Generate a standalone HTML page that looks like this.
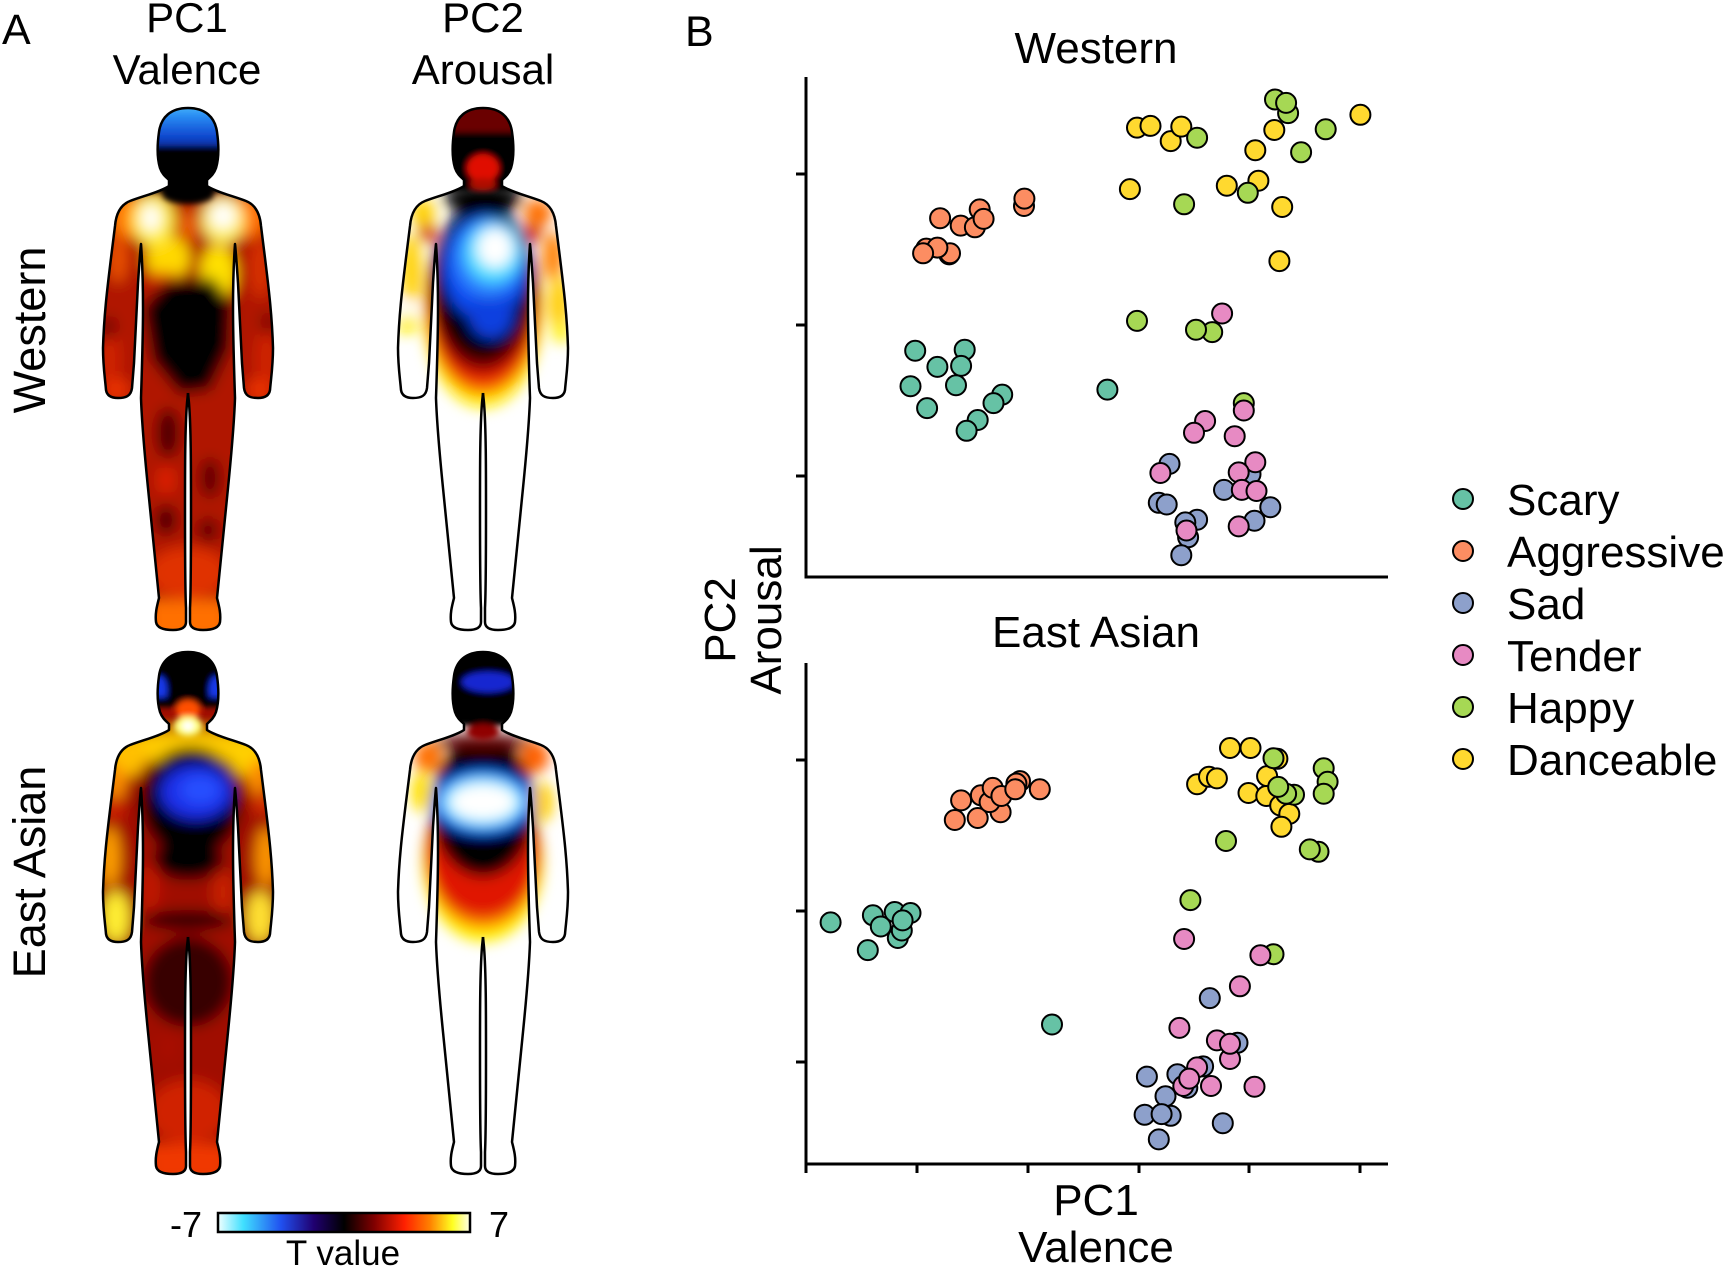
<!DOCTYPE html>
<html><head><meta charset="utf-8"><style>
html,body{margin:0;padding:0;background:#fff;}
svg{display:block;}
text{font-family:"Liberation Sans",Arial,sans-serif;fill:#000;}
.p circle{stroke:#000;stroke-width:2;}
.sc{fill:#66c2a5}.ag{fill:#fc8d62}.sd{fill:#8da0cb}.td{fill:#e78ac3}.hp{fill:#a6d854}.dc{fill:#ffd92f}
.ol{fill:none;stroke:#000;stroke-width:2.5;stroke-linejoin:round;}
</style></head><body>
<svg width="1724" height="1268" viewBox="0 0 1724 1268" xmlns="http://www.w3.org/2000/svg">
<defs>
<clipPath id="bc">
<path d="M0,0 C17,0 27,9 29,24 C31,38 31,50 28,60 C26,66 22,69 19,72 L19,78 C28,84 45,88 58,93 C68,97 72,106 73,118 L77,150 C80,175 84,205 85,240 C85,258 83,270 82,282 C81,288 76,290 70,290 C62,290 57,288 56,280 L54,255 C53,230 51,200 50,175 C49,160 48,145 47,136 C46,150 45,175 45,200 C45,230 46,260 47,290 C46,320 43,350 40,380 C37,410 34,440 31,470 L29,490 C31,498 33,505 32,514 C31,520 24,522 15,522 C7,522 2,520 2,514 L2,500 C3,480 3,440 3,400 C3,360 3,320 1,295 L0,285 Z"/>
<path d="M0,0 C17,0 27,9 29,24 C31,38 31,50 28,60 C26,66 22,69 19,72 L19,78 C28,84 45,88 58,93 C68,97 72,106 73,118 L77,150 C80,175 84,205 85,240 C85,258 83,270 82,282 C81,288 76,290 70,290 C62,290 57,288 56,280 L54,255 C53,230 51,200 50,175 C49,160 48,145 47,136 C46,150 45,175 45,200 C45,230 46,260 47,290 C46,320 43,350 40,380 C37,410 34,440 31,470 L29,490 C31,498 33,505 32,514 C31,520 24,522 15,522 C7,522 2,520 2,514 L2,500 C3,480 3,440 3,400 C3,360 3,320 1,295 L0,285 Z" transform="scale(-1,1)"/>
</clipPath>
<filter id="b7" x="-50%" y="-50%" width="200%" height="200%"><feGaussianBlur stdDeviation="7"/></filter>
<filter id="b3" x="-50%" y="-50%" width="200%" height="200%"><feGaussianBlur stdDeviation="3"/></filter>
<linearGradient id="hb" x1="0" y1="0" x2="0" y2="1">
<stop offset="0" stop-color="#60d8ff"/><stop offset="0.35" stop-color="#2a90f5"/><stop offset="0.8" stop-color="#1048d0"/><stop offset="1" stop-color="#0830a0"/>
</linearGradient>
<linearGradient id="cb" x1="0" y1="0" x2="1" y2="0">
<stop offset="0" stop-color="#f0ffff"/><stop offset="0.1" stop-color="#40e0ff"/><stop offset="0.25" stop-color="#2050f0"/><stop offset="0.38" stop-color="#200070"/><stop offset="0.5" stop-color="#000000"/><stop offset="0.62" stop-color="#800000"/><stop offset="0.74" stop-color="#ff2000"/><stop offset="0.84" stop-color="#ff8000"/><stop offset="0.93" stop-color="#ffff20"/><stop offset="1" stop-color="#ffffe8"/>
</linearGradient>
</defs>

<!-- Panel A labels -->
<text x="2" y="44" font-size="43">A</text>
<text x="187" y="32" font-size="42" text-anchor="middle">PC1</text>
<text x="187" y="84" font-size="42" text-anchor="middle">Valence</text>
<text x="483" y="32" font-size="42" text-anchor="middle">PC2</text>
<text x="483" y="84" font-size="42" text-anchor="middle">Arousal</text>
<text transform="translate(45,330) rotate(-90)" font-size="45" text-anchor="middle">Western</text>
<text transform="translate(45,872) rotate(-90)" font-size="45" text-anchor="middle">East Asian</text>

<!-- PC1 Western -->
<g transform="translate(188,108)">
<g clip-path="url(#bc)">
<g filter="url(#b7)">
<rect x="-100" y="-10" width="200" height="545" fill="#b01400"/>
<ellipse cx="-78" cy="250" rx="10" ry="30" fill="#d02000"/>
<ellipse cx="78" cy="250" rx="10" ry="30" fill="#d02000"/>
<ellipse cx="-72" cy="282" rx="14" ry="12" fill="#e83000"/>
<ellipse cx="72" cy="282" rx="14" ry="12" fill="#e83000"/>
<ellipse cx="-62" cy="108" rx="18" ry="22" fill="#ff7a00"/>
<ellipse cx="62" cy="108" rx="18" ry="22" fill="#ff7000"/>
<ellipse cx="-70" cy="150" rx="10" ry="25" fill="#e85000"/>
<ellipse cx="72" cy="160" rx="10" ry="30" fill="#d83000"/>
<ellipse cx="-80" cy="220" rx="8" ry="12" fill="#700000"/>
<ellipse cx="80" cy="215" rx="8" ry="12" fill="#800800"/>
<ellipse cx="-20" cy="150" rx="22" ry="22" fill="#ffd800"/>
<ellipse cx="30" cy="165" rx="18" ry="28" fill="#ffe000"/>
<ellipse cx="-35" cy="112" rx="22" ry="26" fill="#ffee40"/>
<ellipse cx="35" cy="112" rx="22" ry="24" fill="#fff060"/>
<ellipse cx="0" cy="118" rx="8" ry="16" fill="#f06000"/>
<ellipse cx="-37" cy="110" rx="10" ry="14" fill="#ffffff"/>
<ellipse cx="35" cy="108" rx="13" ry="13" fill="#ffffff"/>
<ellipse cx="-25" cy="170" rx="16" ry="6" fill="#e04000"/>
<polygon points="-45,200 -22,172 25,170 44,195 42,240 22,282 -8,286 -36,252" fill="#000"/>
<ellipse cx="-20" cy="325" rx="12" ry="25" fill="#500000"/>
<ellipse cx="22" cy="370" rx="10" ry="20" fill="#600000"/>
<ellipse cx="-22" cy="412" rx="11" ry="15" fill="#500000"/>
<ellipse cx="20" cy="422" rx="10" ry="12" fill="#600000"/>
<ellipse cx="-22" cy="372" rx="8" ry="14" fill="#e02000"/>
<ellipse cx="0" cy="465" rx="40" ry="26" fill="#e03000"/>
<rect x="-40" y="492" width="80" height="40" fill="#ff7000"/>
</g>
<g filter="url(#b3)">
<rect x="-40" y="-10" width="80" height="48" fill="url(#hb)"/>
<rect x="-40" y="38" width="80" height="46" fill="#000"/>
<ellipse cx="0" cy="86" rx="26" ry="10" fill="#000"/>
</g>
</g>
<path class="ol" d="M0,0 C17,0 27,9 29,24 C31,38 31,50 28,60 C26,66 22,69 19,72 L19,78 C28,84 45,88 58,93 C68,97 72,106 73,118 L77,150 C80,175 84,205 85,240 C85,258 83,270 82,282 C81,288 76,290 70,290 C62,290 57,288 56,280 L54,255 C53,230 51,200 50,175 C49,160 48,145 47,136 C46,150 45,175 45,200 C45,230 46,260 47,290 C46,320 43,350 40,380 C37,410 34,440 31,470 L29,490 C31,498 33,505 32,514 C31,520 24,522 15,522 C7,522 2,520 2,514 L2,500 C3,480 3,440 3,400 C3,360 3,320 1,295 L0,285"/>
<path class="ol" transform="scale(-1,1)" d="M0,0 C17,0 27,9 29,24 C31,38 31,50 28,60 C26,66 22,69 19,72 L19,78 C28,84 45,88 58,93 C68,97 72,106 73,118 L77,150 C80,175 84,205 85,240 C85,258 83,270 82,282 C81,288 76,290 70,290 C62,290 57,288 56,280 L54,255 C53,230 51,200 50,175 C49,160 48,145 47,136 C46,150 45,175 45,200 C45,230 46,260 47,290 C46,320 43,350 40,380 C37,410 34,440 31,470 L29,490 C31,498 33,505 32,514 C31,520 24,522 15,522 C7,522 2,520 2,514 L2,500 C3,480 3,440 3,400 C3,360 3,320 1,295 L0,285"/>
</g>

<!-- PC2 Western -->
<g transform="translate(483,108)">
<g clip-path="url(#bc)">
<g filter="url(#b7)">
<ellipse cx="0" cy="202" rx="60" ry="98" fill="#ffee10"/>
<ellipse cx="0" cy="194" rx="58" ry="94" fill="#ff8000"/>
<ellipse cx="0" cy="188" rx="56" ry="90" fill="#e82000"/>
<ellipse cx="0" cy="180" rx="53" ry="84" fill="#800000"/>
<ellipse cx="0" cy="172" rx="50" ry="80" fill="#000"/>
<ellipse cx="0" cy="90" rx="40" ry="14" fill="#000"/>
<ellipse cx="-60" cy="105" rx="12" ry="15" fill="#ffd000"/>
<ellipse cx="-55" cy="125" rx="8" ry="10" fill="#d02000"/>
<ellipse cx="55" cy="105" rx="14" ry="14" fill="#ff7000"/>
<ellipse cx="50" cy="125" rx="8" ry="10" fill="#d02000"/>
<ellipse cx="-72" cy="160" rx="10" ry="35" fill="#ffd000"/>
<ellipse cx="-78" cy="203" rx="10" ry="5" fill="#ffffff"/>
<ellipse cx="-76" cy="216" rx="10" ry="10" fill="#ffee00"/>
<ellipse cx="70" cy="148" rx="10" ry="25" fill="#ff8000"/>
<ellipse cx="76" cy="195" rx="10" ry="28" fill="#ffcc00"/>
<ellipse cx="78" cy="225" rx="8" ry="10" fill="#fff000"/>
<ellipse cx="2" cy="160" rx="42" ry="52" fill="#1048f0"/>
<ellipse cx="8" cy="205" rx="22" ry="25" fill="#1040e0"/>
<ellipse cx="6" cy="150" rx="36" ry="40" fill="#2a80ff"/>
<ellipse cx="10" cy="145" rx="28" ry="30" fill="#50e0ff"/>
<ellipse cx="12" cy="140" rx="18" ry="20" fill="#ffffff"/>
</g>
<g filter="url(#b3)">
<rect x="-40" y="-10" width="80" height="34" fill="#6a0000"/>
<rect x="-40" y="24" width="80" height="60" fill="#000"/>
<ellipse cx="0" cy="60" rx="16" ry="14" fill="#e01000"/>
<ellipse cx="0" cy="76" rx="13" ry="6" fill="#b01000"/>
</g>
</g>
<path class="ol" d="M0,0 C17,0 27,9 29,24 C31,38 31,50 28,60 C26,66 22,69 19,72 L19,78 C28,84 45,88 58,93 C68,97 72,106 73,118 L77,150 C80,175 84,205 85,240 C85,258 83,270 82,282 C81,288 76,290 70,290 C62,290 57,288 56,280 L54,255 C53,230 51,200 50,175 C49,160 48,145 47,136 C46,150 45,175 45,200 C45,230 46,260 47,290 C46,320 43,350 40,380 C37,410 34,440 31,470 L29,490 C31,498 33,505 32,514 C31,520 24,522 15,522 C7,522 2,520 2,514 L2,500 C3,480 3,440 3,400 C3,360 3,320 1,295 L0,285"/>
<path class="ol" transform="scale(-1,1)" d="M0,0 C17,0 27,9 29,24 C31,38 31,50 28,60 C26,66 22,69 19,72 L19,78 C28,84 45,88 58,93 C68,97 72,106 73,118 L77,150 C80,175 84,205 85,240 C85,258 83,270 82,282 C81,288 76,290 70,290 C62,290 57,288 56,280 L54,255 C53,230 51,200 50,175 C49,160 48,145 47,136 C46,150 45,175 45,200 C45,230 46,260 47,290 C46,320 43,350 40,380 C37,410 34,440 31,470 L29,490 C31,498 33,505 32,514 C31,520 24,522 15,522 C7,522 2,520 2,514 L2,500 C3,480 3,440 3,400 C3,360 3,320 1,295 L0,285"/>
</g>

<!-- PC1 East Asian -->
<g transform="translate(188,652)">
<g clip-path="url(#bc)">
<g filter="url(#b7)">
<rect x="-100" y="-10" width="200" height="545" fill="#a01000"/>
<ellipse cx="0" cy="95" rx="80" ry="16" fill="#ffcc00"/>
<ellipse cx="-62" cy="105" rx="20" ry="20" fill="#ffc000"/>
<ellipse cx="62" cy="105" rx="20" ry="20" fill="#ffd000"/>
<ellipse cx="-72" cy="130" rx="10" ry="18" fill="#ff9000"/>
<ellipse cx="-74" cy="158" rx="10" ry="10" fill="#d02000"/>
<ellipse cx="-78" cy="205" rx="10" ry="30" fill="#ffa000"/>
<ellipse cx="-72" cy="265" rx="14" ry="26" fill="#ffee30"/>
<ellipse cx="70" cy="125" rx="10" ry="18" fill="#ff9000"/>
<ellipse cx="75" cy="152" rx="10" ry="10" fill="#d83000"/>
<ellipse cx="78" cy="205" rx="10" ry="30" fill="#ff9800"/>
<ellipse cx="72" cy="265" rx="14" ry="26" fill="#ffe030"/>
<ellipse cx="3" cy="150" rx="50" ry="55" fill="#000"/>
<ellipse cx="0" cy="208" rx="35" ry="20" fill="#000"/>
<ellipse cx="8" cy="140" rx="36" ry="27" fill="#1c2ee8"/>
<ellipse cx="12" cy="138" rx="20" ry="14" fill="#2850ff"/>
<ellipse cx="-38" cy="235" rx="10" ry="25" fill="#c01800"/>
<ellipse cx="35" cy="240" rx="10" ry="22" fill="#c82000"/>
<ellipse cx="0" cy="268" rx="45" ry="10" fill="#300000"/>
<ellipse cx="0" cy="330" rx="45" ry="45" fill="#380000"/>
<ellipse cx="-20" cy="395" rx="10" ry="15" fill="#a81000"/>
<ellipse cx="20" cy="395" rx="10" ry="15" fill="#a01000"/>
<ellipse cx="0" cy="460" rx="40" ry="32" fill="#d02000"/>
<rect x="-40" y="492" width="80" height="40" fill="#f03800"/>
</g>
<g filter="url(#b3)">
<rect x="-40" y="-10" width="80" height="60" fill="#000"/>
<ellipse cx="-28" cy="38" rx="7" ry="14" fill="#1838e8"/>
<ellipse cx="28" cy="38" rx="7" ry="14" fill="#1838e8"/>
<rect x="-40" y="45" width="80" height="10" fill="#000"/>
<ellipse cx="0" cy="58" rx="12" ry="10" fill="#ff5000"/>
<ellipse cx="0" cy="74" rx="14" ry="10" fill="#ffff80"/>
<ellipse cx="0" cy="74" rx="6" ry="5" fill="#ffffff"/>
</g>
</g>
<path class="ol" d="M0,0 C17,0 27,9 29,24 C31,38 31,50 28,60 C26,66 22,69 19,72 L19,78 C28,84 45,88 58,93 C68,97 72,106 73,118 L77,150 C80,175 84,205 85,240 C85,258 83,270 82,282 C81,288 76,290 70,290 C62,290 57,288 56,280 L54,255 C53,230 51,200 50,175 C49,160 48,145 47,136 C46,150 45,175 45,200 C45,230 46,260 47,290 C46,320 43,350 40,380 C37,410 34,440 31,470 L29,490 C31,498 33,505 32,514 C31,520 24,522 15,522 C7,522 2,520 2,514 L2,500 C3,480 3,440 3,400 C3,360 3,320 1,295 L0,285"/>
<path class="ol" transform="scale(-1,1)" d="M0,0 C17,0 27,9 29,24 C31,38 31,50 28,60 C26,66 22,69 19,72 L19,78 C28,84 45,88 58,93 C68,97 72,106 73,118 L77,150 C80,175 84,205 85,240 C85,258 83,270 82,282 C81,288 76,290 70,290 C62,290 57,288 56,280 L54,255 C53,230 51,200 50,175 C49,160 48,145 47,136 C46,150 45,175 45,200 C45,230 46,260 47,290 C46,320 43,350 40,380 C37,410 34,440 31,470 L29,490 C31,498 33,505 32,514 C31,520 24,522 15,522 C7,522 2,520 2,514 L2,500 C3,480 3,440 3,400 C3,360 3,320 1,295 L0,285"/>
</g>

<!-- PC2 East Asian -->
<g transform="translate(483,652)">
<g clip-path="url(#bc)">
<g filter="url(#b7)">
<ellipse cx="0" cy="210" rx="60" ry="80" fill="#fff000"/>
<ellipse cx="0" cy="203" rx="58" ry="74" fill="#ff8000"/>
<ellipse cx="0" cy="196" rx="56" ry="70" fill="#e01800"/>
<ellipse cx="0" cy="155" rx="52" ry="70" fill="#000"/>
<ellipse cx="0" cy="90" rx="50" ry="8" fill="#600000"/>
<ellipse cx="-55" cy="105" rx="14" ry="16" fill="#ff7000"/>
<ellipse cx="-62" cy="140" rx="10" ry="20" fill="#ffe000"/>
<ellipse cx="52" cy="105" rx="14" ry="16" fill="#ff6000"/>
<ellipse cx="60" cy="150" rx="10" ry="20" fill="#ffd000"/>
<ellipse cx="0" cy="150" rx="50" ry="32" fill="#1040ff"/>
<ellipse cx="0" cy="150" rx="42" ry="26" fill="#40e0ff"/>
<ellipse cx="0" cy="150" rx="34" ry="19" fill="#ffffff"/>
</g>
<g filter="url(#b3)">
<rect x="-40" y="-10" width="80" height="84" fill="#000"/>
<ellipse cx="5" cy="30" rx="26" ry="10" fill="#1828d0"/>
<ellipse cx="0" cy="80" rx="16" ry="8" fill="#900000"/>
</g>
</g>
<path class="ol" d="M0,0 C17,0 27,9 29,24 C31,38 31,50 28,60 C26,66 22,69 19,72 L19,78 C28,84 45,88 58,93 C68,97 72,106 73,118 L77,150 C80,175 84,205 85,240 C85,258 83,270 82,282 C81,288 76,290 70,290 C62,290 57,288 56,280 L54,255 C53,230 51,200 50,175 C49,160 48,145 47,136 C46,150 45,175 45,200 C45,230 46,260 47,290 C46,320 43,350 40,380 C37,410 34,440 31,470 L29,490 C31,498 33,505 32,514 C31,520 24,522 15,522 C7,522 2,520 2,514 L2,500 C3,480 3,440 3,400 C3,360 3,320 1,295 L0,285"/>
<path class="ol" transform="scale(-1,1)" d="M0,0 C17,0 27,9 29,24 C31,38 31,50 28,60 C26,66 22,69 19,72 L19,78 C28,84 45,88 58,93 C68,97 72,106 73,118 L77,150 C80,175 84,205 85,240 C85,258 83,270 82,282 C81,288 76,290 70,290 C62,290 57,288 56,280 L54,255 C53,230 51,200 50,175 C49,160 48,145 47,136 C46,150 45,175 45,200 C45,230 46,260 47,290 C46,320 43,350 40,380 C37,410 34,440 31,470 L29,490 C31,498 33,505 32,514 C31,520 24,522 15,522 C7,522 2,520 2,514 L2,500 C3,480 3,440 3,400 C3,360 3,320 1,295 L0,285"/>
</g>

<!-- Colorbar -->
<rect x="218" y="1213" width="252" height="19" fill="url(#cb)" stroke="#000" stroke-width="2.5"/>
<text x="202" y="1237" font-size="36" text-anchor="end">-7</text>
<text x="489" y="1237" font-size="36">7</text>
<text x="343" y="1265" font-size="35" text-anchor="middle">T value</text>

<!-- Panel B -->
<text x="685" y="46" font-size="43">B</text>
<text x="1096" y="63" font-size="44" text-anchor="middle">Western</text>
<text x="1096" y="647" font-size="44" text-anchor="middle">East Asian</text>
<text transform="translate(735,620) rotate(-90)" font-size="44" text-anchor="middle">PC2</text>
<text transform="translate(781,620) rotate(-90)" font-size="44" text-anchor="middle">Arousal</text>
<text x="1096" y="1215" font-size="44" text-anchor="middle">PC1</text>
<text x="1096" y="1262" font-size="44" text-anchor="middle">Valence</text>

<!-- Axes -->
<g stroke="#000" stroke-width="3" fill="none">
<path d="M806,77 V578 M804.5,577 H1388"/>
<path d="M796,174 H806 M796,325 H806 M796,476 H806"/>
<path d="M806,663 V1165 M804.5,1164 H1388"/>
<path d="M796,760 H806 M796,911 H806 M796,1062 H806"/>
<path d="M806,1164 V1173 M917,1164 V1173 M1028,1164 V1173 M1139,1164 V1173 M1249,1164 V1173 M1360,1164 V1173"/>
</g>

<!-- Western scatter -->
<g class="p">
<circle class="sc" cx="915.2" cy="350.7" r="10"/>
<circle class="sc" cx="964.7" cy="349.7" r="10"/>
<circle class="sc" cx="937.4" cy="366.9" r="10"/>
<circle class="sc" cx="961.1" cy="365.9" r="10"/>
<circle class="sc" cx="910.5" cy="386.2" r="10"/>
<circle class="sc" cx="956.0" cy="385.2" r="10"/>
<circle class="sc" cx="927.1" cy="408.1" r="10"/>
<circle class="sc" cx="1002.2" cy="394.6" r="10"/>
<circle class="sc" cx="993.5" cy="403.1" r="10"/>
<circle class="sc" cx="977.7" cy="420.0" r="10"/>
<circle class="sc" cx="966.6" cy="430.8" r="10"/>
<circle class="sc" cx="1107.4" cy="389.6" r="10"/>

<circle class="ag" cx="940.1" cy="218.2" r="10"/>
<circle class="ag" cx="960.7" cy="225.6" r="10"/>
<circle class="ag" cx="979.7" cy="209.4" r="10"/>
<circle class="ag" cx="974.9" cy="227.3" r="10"/>
<circle class="ag" cx="983.6" cy="218.9" r="10"/>
<circle class="ag" cx="926.3" cy="248.6" r="10"/>
<circle class="ag" cx="949.2" cy="254.4" r="10"/>
<circle class="ag" cx="950.0" cy="253.3" r="10"/>
<circle class="ag" cx="937.4" cy="247.6" r="10"/>
<circle class="ag" cx="923.1" cy="253.3" r="10"/>
<circle class="ag" cx="1024.0" cy="206.0" r="10"/>
<circle class="ag" cx="1024.4" cy="198.6" r="10"/>

<circle class="dc" cx="1137.0" cy="127.6" r="10"/>
<circle class="dc" cx="1150.5" cy="125.9" r="10"/>
<circle class="dc" cx="1170.7" cy="141.1" r="10"/>
<circle class="dc" cx="1181.3" cy="126.6" r="10"/>
<circle class="dc" cx="1129.9" cy="189.1" r="10"/>
<circle class="dc" cx="1274.3" cy="130.0" r="10"/>
<circle class="dc" cx="1255.3" cy="150.2" r="10"/>
<circle class="dc" cx="1258.4" cy="180.7" r="10"/>
<circle class="dc" cx="1226.8" cy="185.7" r="10"/>
<circle class="dc" cx="1282.2" cy="207.0" r="10"/>
<circle class="dc" cx="1279.4" cy="261.1" r="10"/>
<circle class="dc" cx="1360.4" cy="114.8" r="10"/>

<circle class="sd" cx="1169.5" cy="463.9" r="10"/>
<circle class="sd" cx="1250.5" cy="474.1" r="10"/>
<circle class="sd" cx="1224.0" cy="489.9" r="10"/>
<circle class="sd" cx="1158.8" cy="502.8" r="10"/>
<circle class="sd" cx="1166.7" cy="504.5" r="10"/>
<circle class="sd" cx="1197.1" cy="519.7" r="10"/>
<circle class="sd" cx="1185.3" cy="522.4" r="10"/>
<circle class="sd" cx="1188.1" cy="537.3" r="10"/>
<circle class="sd" cx="1181.3" cy="555.2" r="10"/>
<circle class="sd" cx="1270.3" cy="507.2" r="10"/>
<circle class="sd" cx="1254.5" cy="520.7" r="10"/>

<circle class="hp" cx="1275.0" cy="99.5" r="10"/>
<circle class="hp" cx="1288.1" cy="113.1" r="10"/>
<circle class="hp" cx="1286.1" cy="102.9" r="10"/>
<circle class="hp" cx="1197.1" cy="137.7" r="10"/>
<circle class="hp" cx="1325.7" cy="129.3" r="10"/>
<circle class="hp" cx="1301.1" cy="152.3" r="10"/>
<circle class="hp" cx="1247.8" cy="192.8" r="10"/>
<circle class="hp" cx="1184.1" cy="204.3" r="10"/>
<circle class="hp" cx="1137.0" cy="320.9" r="10"/>
<circle class="hp" cx="1212.2" cy="332.1" r="10"/>
<circle class="hp" cx="1196.0" cy="329.7" r="10"/>
<circle class="hp" cx="1243.8" cy="403.1" r="10"/>

<circle class="td" cx="1222.1" cy="313.5" r="10"/>
<circle class="td" cx="1205.1" cy="421.0" r="10"/>
<circle class="td" cx="1194.0" cy="432.8" r="10"/>
<circle class="td" cx="1234.7" cy="436.2" r="10"/>
<circle class="td" cx="1243.8" cy="410.5" r="10"/>
<circle class="td" cx="1255.3" cy="462.2" r="10"/>
<circle class="td" cx="1238.7" cy="472.4" r="10"/>
<circle class="td" cx="1241.8" cy="489.9" r="10"/>
<circle class="td" cx="1256.5" cy="491.0" r="10"/>
<circle class="td" cx="1160.4" cy="473.0" r="10"/>
<circle class="td" cx="1238.7" cy="526.4" r="10"/>
<circle class="td" cx="1186.5" cy="530.5" r="10"/>
</g>

<!-- East Asian scatter -->
<g class="p">
<circle class="sc" cx="830.6" cy="922.4" r="10"/>
<circle class="sc" cx="867.8" cy="950.1" r="10"/>
<circle class="sc" cx="897.8" cy="938.0" r="10"/>
<circle class="sc" cx="901.8" cy="930.5" r="10"/>
<circle class="sc" cx="872.9" cy="915.3" r="10"/>
<circle class="sc" cx="894.7" cy="912.0" r="10"/>
<circle class="sc" cx="910.5" cy="913.0" r="10"/>
<circle class="sc" cx="880.8" cy="926.5" r="10"/>
<circle class="sc" cx="902.6" cy="920.4" r="10"/>
<circle class="sc" cx="1052.0" cy="1024.5" r="10"/>

<circle class="ag" cx="961.1" cy="800.4" r="10"/>
<circle class="ag" cx="954.8" cy="820.0" r="10"/>
<circle class="ag" cx="977.7" cy="818.0" r="10"/>
<circle class="ag" cx="1000.6" cy="812.2" r="10"/>
<circle class="ag" cx="980.9" cy="795.3" r="10"/>
<circle class="ag" cx="989.6" cy="802.1" r="10"/>
<circle class="ag" cx="992.7" cy="787.9" r="10"/>
<circle class="ag" cx="1001.4" cy="796.0" r="10"/>
<circle class="ag" cx="1020.0" cy="781.1" r="10"/>
<circle class="ag" cx="1016.4" cy="783.5" r="10"/>
<circle class="ag" cx="1015.3" cy="789.3" r="10"/>
<circle class="ag" cx="1039.8" cy="789.3" r="10"/>

<circle class="dc" cx="1230.0" cy="748.0" r="10"/>
<circle class="dc" cx="1250.5" cy="748.0" r="10"/>
<circle class="dc" cx="1277.4" cy="758.8" r="10"/>
<circle class="dc" cx="1197.1" cy="784.2" r="10"/>
<circle class="dc" cx="1209.0" cy="776.8" r="10"/>
<circle class="dc" cx="1216.9" cy="778.4" r="10"/>
<circle class="dc" cx="1267.1" cy="776.1" r="10"/>
<circle class="dc" cx="1248.5" cy="793.0" r="10"/>
<circle class="dc" cx="1266.3" cy="796.0" r="10"/>
<circle class="dc" cx="1280.2" cy="805.5" r="10"/>
<circle class="dc" cx="1289.3" cy="813.9" r="10"/>
<circle class="dc" cx="1281.4" cy="826.8" r="10"/>

<circle class="sd" cx="1209.8" cy="998.1" r="10"/>
<circle class="sd" cx="1237.5" cy="1042.8" r="10"/>
<circle class="sd" cx="1146.9" cy="1076.6" r="10"/>
<circle class="sd" cx="1177.4" cy="1074.2" r="10"/>
<circle class="sd" cx="1203.1" cy="1066.4" r="10"/>
<circle class="sd" cx="1187.3" cy="1087.7" r="10"/>
<circle class="sd" cx="1165.5" cy="1096.2" r="10"/>
<circle class="sd" cx="1170.7" cy="1115.8" r="10"/>
<circle class="sd" cx="1144.6" cy="1114.8" r="10"/>
<circle class="sd" cx="1161.6" cy="1114.1" r="10"/>
<circle class="sd" cx="1222.8" cy="1123.2" r="10"/>
<circle class="sd" cx="1158.8" cy="1139.4" r="10"/>

<circle class="hp" cx="1273.5" cy="758.2" r="10"/>
<circle class="hp" cx="1323.7" cy="768.3" r="10"/>
<circle class="hp" cx="1327.6" cy="781.8" r="10"/>
<circle class="hp" cx="1323.7" cy="793.7" r="10"/>
<circle class="hp" cx="1294.0" cy="794.7" r="10"/>
<circle class="hp" cx="1286.1" cy="793.7" r="10"/>
<circle class="hp" cx="1278.2" cy="786.9" r="10"/>
<circle class="hp" cx="1226.0" cy="841.0" r="10"/>
<circle class="hp" cx="1318.5" cy="851.8" r="10"/>
<circle class="hp" cx="1309.8" cy="849.4" r="10"/>
<circle class="hp" cx="1190.4" cy="900.1" r="10"/>
<circle class="hp" cx="1273.5" cy="954.2" r="10"/>

<circle class="td" cx="1184.1" cy="939.0" r="10"/>
<circle class="td" cx="1260.4" cy="955.2" r="10"/>
<circle class="td" cx="1239.9" cy="986.3" r="10"/>
<circle class="td" cx="1179.4" cy="1027.9" r="10"/>
<circle class="td" cx="1216.9" cy="1040.4" r="10"/>
<circle class="td" cx="1230.0" cy="1059.0" r="10"/>
<circle class="td" cx="1230.0" cy="1043.8" r="10"/>
<circle class="td" cx="1197.1" cy="1067.4" r="10"/>
<circle class="td" cx="1183.3" cy="1086.0" r="10"/>
<circle class="td" cx="1189.2" cy="1078.6" r="10"/>
<circle class="td" cx="1211.0" cy="1086.0" r="10"/>
<circle class="td" cx="1254.5" cy="1086.7" r="10"/>
</g>

<!-- Legend -->
<g class="p">
<circle class="sc" cx="1463" cy="499" r="10"/>
<circle class="ag" cx="1463" cy="551" r="10"/>
<circle class="sd" cx="1463" cy="603" r="10"/>
<circle class="td" cx="1463" cy="655" r="10"/>
<circle class="hp" cx="1463" cy="707" r="10"/>
<circle class="dc" cx="1463" cy="759" r="10"/>
</g>
<g font-size="44">
<text x="1507" y="515">Scary</text>
<text x="1507" y="567">Aggressive</text>
<text x="1507" y="619">Sad</text>
<text x="1507" y="671">Tender</text>
<text x="1507" y="723">Happy</text>
<text x="1507" y="775">Danceable</text>
</g>
</svg>
</body></html>
